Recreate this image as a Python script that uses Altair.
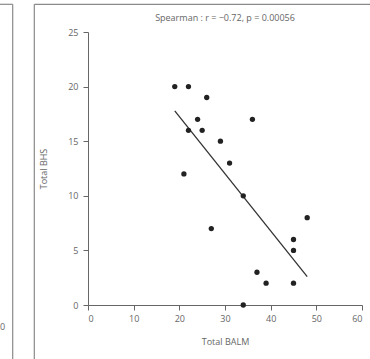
import altair as alt
import pandas as pd

# Data
balm = [19, 22, 26, 24, 36, 22, 25, 29, 31, 21, 34, 48, 27, 45, 45, 37, 39, 45, 34]
bhs = [20, 20, 19, 17, 17, 16, 16, 15, 13, 12, 10, 8, 7, 6, 5, 3, 2, 2, 0]
x_ticks = [0, 10, 20, 30, 40, 50, 60]
y_ticks = [0, 5, 10, 15, 20, 25]
chart_title = "Spearman : r = \u22120.72, p = 0.00056"
x_title = "Total BALM"
y_title = "Total BHS"

df = pd.DataFrame({"balm": balm, "bhs": bhs})

FONT = "Open Sans"
TXT = "#666666"
AX = "#666666"
FRAME = "#8a8a8a"
W, H = 274, 273
FS = 9

x_enc = alt.X(
    "balm:Q",
    scale=alt.Scale(domain=[0, 60], nice=False, zero=False),
    axis=alt.Axis(values=x_ticks, title=x_title, grid=False, tickSize=5,
                  labelPadding=4, titlePadding=14, format="d"),
)
y_enc = alt.Y(
    "bhs:Q",
    scale=alt.Scale(domain=[0, 25], nice=False, zero=False),
    axis=alt.Axis(values=y_ticks, title=y_title, grid=False, tickSize=5,
                  labelPadding=5, titlePadding=19, format="d"),
)

points = alt.Chart(df).mark_circle(size=28, color="#222222", opacity=1).encode(x=x_enc, y=y_enc)
fit = (
    alt.Chart(df)
    .transform_regression("balm", "bhs")
    .mark_line(color="#333333", strokeWidth=1.3)
    .encode(x="balm:Q", y="bhs:Q")
)

dummy = pd.DataFrame({"k": [0]})
def vline(x, y1, y2):
    return alt.Chart(dummy).mark_rule(color=FRAME, strokeWidth=1.2).encode(
        x=alt.value(x), y=alt.value(y1), y2=alt.value(y2))
def hline(x1, x2, y):
    return alt.Chart(dummy).mark_rule(color=FRAME, strokeWidth=1.2).encode(
        x=alt.value(x1), x2=alt.value(x2), y=alt.value(y))

frames = [
    vline(-53.7, -27.7, 330),
    hline(-53.7, 290, -27.7),
    vline(-75.3, -27.7, 330),
    hline(-90, -75.3, -27.7),
]
frag = alt.Chart(dummy).mark_text(font=FONT, fontSize=FS, color=TXT, align="left").encode(
    x=alt.value(-88), y=alt.value(295), text=alt.value("0"))
title_mark = alt.Chart(dummy).mark_text(font=FONT, fontSize=FS, color=TXT, align="center",
                                        baseline="middle").encode(
    x=alt.value(W / 2), y=alt.value(-14), text=alt.value(chart_title))

chart = (
    alt.layer(*frames, frag, title_mark, fit, points)
    .properties(
        width=W, height=H,
        padding={"left": 88, "top": 32, "right": 8, "bottom": 54},
        autosize=alt.AutoSizeParams(type="none"),
    )
    .configure_view(stroke=None)
    .configure_axis(labelFont=FONT, titleFont=FONT, labelFontSize=FS, titleFontSize=FS,
                    labelColor=TXT, titleColor=TXT, domainColor=AX, tickColor=AX,
                    titleFontWeight="normal")
)

chart.save("out.html", embed_options={"renderer": "svg", "actions": False})
